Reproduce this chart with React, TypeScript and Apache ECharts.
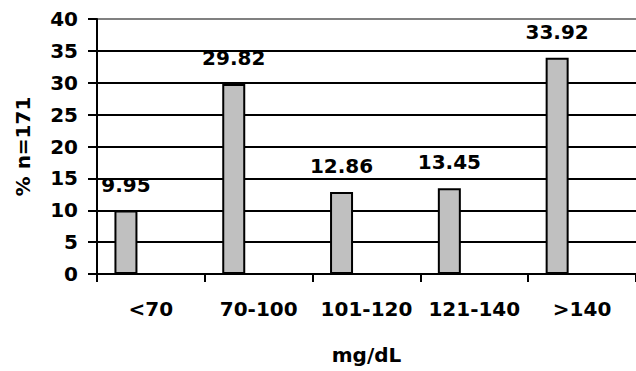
import React, { useEffect, useRef } from "react";
import * as echarts from "echarts";

// Glucose ranges (mg/dL) and the share of patients in each, n = 171
const categories = ["<70", "70-100", "101-120", "121-140", ">140"];
const percentValues = [9.95, 29.82, 12.86, 13.45, 33.92];
const emptySeries = [null, null, null, null, null];
const yTicks = { min: 0, max: 40, interval: 5 };

const FONT = "DejaVu Sans";

export default function App() {
  const ref = useRef<HTMLDivElement>(null);

  useEffect(() => {
    if (!ref.current) return;
    const chart = echarts.init(ref.current, undefined, { renderer: "svg" });

    // gridlines are black, the one at the top is grey
    const gridColors = [
      "#000", "#000", "#000", "#000", "#000", "#000", "#000", "#000", "#808080",
    ];

    chart.setOption({
      animation: false,
      backgroundColor: "#fff",
      grid: { left: 97, top: 19, bottom: 97, right: -11, containLabel: false },
      xAxis: {
        type: "category",
        data: categories,
        boundaryGap: true,
        name: "mg/dL",
        nameLocation: "middle",
        nameGap: 71,
        nameTextStyle: { fontFamily: FONT, fontWeight: "bold", fontSize: 20, color: "#000" },
        axisLine: { lineStyle: { color: "#000", width: 2 } },
        axisTick: { show: true, length: 8, interval: 0, alignWithLabel: false, lineStyle: { color: "#000", width: 2 } },
        axisLabel: { interval: 0, margin: 25, fontFamily: FONT, fontWeight: "bold", fontSize: 20, color: "#000" },
        splitLine: { show: false },
      },
      yAxis: {
        type: "value",
        min: yTicks.min,
        max: yTicks.max,
        interval: yTicks.interval,
        name: "% n=171",
        nameLocation: "middle",
        nameGap: 64,
        nameTextStyle: { fontFamily: FONT, fontWeight: "bold", fontSize: 20, color: "#000" },
        axisLine: { show: true, lineStyle: { color: "#000", width: 2 } },
        axisTick: { show: true, length: 9, lineStyle: { color: "#000", width: 2 } },
        axisLabel: { margin: 19, fontFamily: FONT, fontWeight: "bold", fontSize: 20, color: "#000" },
        splitLine: { show: true, lineStyle: { color: gridColors, width: 2 } },
      },
      series: [
        {
          type: "bar",
          data: percentValues,
          barWidth: 23,
          barGap: "117%",
          itemStyle: { color: "#c0c0c0", borderColor: "#000", borderWidth: 2 },
          label: {
            show: true,
            position: "top",
            distance: 16,
            fontFamily: FONT,
            fontWeight: "bold",
            fontSize: 20,
            color: "#000",
            formatter: (p: any) => p.value.toFixed(2),
          },
        },
        {
          type: "bar",
          data: emptySeries,
          barWidth: 23,
          itemStyle: { color: "#c0c0c0" },
        },
      ],
    });

    return () => chart.dispose();
  }, []);

  return (
    <div
      ref={ref}
      style={{ position: "fixed", left: 0, top: 0, width: 636, height: 371, background: "#fff" }}
    />
  );
}
